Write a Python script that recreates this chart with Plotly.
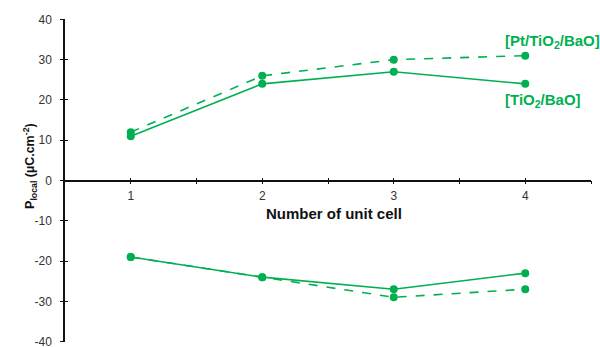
import plotly.graph_objects as go

# Unit cells along the film
cells = [1, 2, 3, 4]

# Local polarisation (µC/cm²), upper and lower branches
pt_tio2_bao_up = [12, 26, 30, 31]
tio2_bao_up = [11, 24, 27, 24]
pt_tio2_bao_down = [-19, -24, -29, -27]
tio2_bao_down = [-19, -24, -27, -23]

label_pt = "[Pt/TiO<sub>2</sub>/BaO]"
label_plain = "[TiO<sub>2</sub>/BaO]"

x_ticks = [1, 1.5, 2, 2.5, 3, 3.5, 4, 4.5]
x_ticktext = ["1", "", "2", "", "3", "", "4", ""]
y_ticks = [-40, -30, -20, -10, 0, 10, 20, 30, 40]
y_ticktext = [str(v) for v in y_ticks]  # plain hyphen minus signs

GREEN = "#00B050"
AXIS = "#111111"
FONT = "Liberation Sans, Arial, sans-serif"

fig = go.Figure()

def add_series(y, dash):
    fig.add_trace(go.Scatter(
        x=cells, y=y, mode="lines+markers",
        line=dict(color=GREEN, width=1.6, dash=dash),
        marker=dict(color=GREEN, size=8),
        showlegend=False, hoverinfo="x+y",
    ))

add_series(pt_tio2_bao_up, "dash")
add_series(tio2_bao_up, "solid")
add_series(pt_tio2_bao_down, "dash")
add_series(tio2_bao_down, "solid")

# empty trace so the overlay axes (inward tick halves) get drawn
fig.add_trace(go.Scatter(x=[None], y=[None], xaxis="x2", yaxis="y2",
                         showlegend=False, hoverinfo="skip"))

tick_font = dict(family=FONT, size=12, color="#333333")
Y_RANGE = [-40.1, 40.1]

fig.update_layout(
    width=600, height=347,
    margin=dict(l=65, r=9, t=19, b=5, autoexpand=False),
    paper_bgcolor="white", plot_bgcolor="white",
    font=dict(family=FONT),
    xaxis=dict(
        range=[0.5, 4.5], tickvals=x_ticks, ticktext=x_ticktext,
        anchor="free", position=0.5, automargin=False,
        showline=True, linecolor=AXIS, linewidth=1.5,
        ticks="outside", ticklen=3, tickwidth=1.2, tickcolor=AXIS,
        showgrid=False, zeroline=False, tickfont=tick_font,
        ticklabelstandoff=1,
    ),
    yaxis=dict(
        range=Y_RANGE, tickvals=y_ticks, ticktext=y_ticktext, domain=[0, 1],
        automargin=False,
        showline=True, linecolor=AXIS, linewidth=1.5,
        ticks="outside", ticklen=3, tickwidth=1.2, tickcolor=AXIS,
        showgrid=False, zeroline=False, tickfont=tick_font,
        ticklabelstandoff=6, ticklabeloverflow="allow",
    ),
    xaxis2=dict(
        range=[0.5, 4.5], tickvals=x_ticks, overlaying="x",
        anchor="free", position=0.5, showline=False, automargin=False,
        ticks="inside", ticklen=3, tickwidth=1.2, tickcolor=AXIS,
        showticklabels=False, showgrid=False, zeroline=False,
    ),
    yaxis2=dict(
        range=Y_RANGE, tickvals=y_ticks, overlaying="y", side="left",
        showline=False, automargin=False,
        ticks="inside", ticklen=3, tickwidth=1.2, tickcolor=AXIS,
        showticklabels=False, showgrid=False, zeroline=False,
    ),
)

fig.add_annotation(
    text="<b>Number of unit cell</b>", xref="paper", yref="paper",
    x=0.512, y=0.5, yshift=-33, showarrow=False,
    font=dict(family=FONT, size=15, color="#111111"),
)
fig.add_annotation(
    text="<b>P<sub>local</sub> (µC.cm<sup>-2</sup>)</b>", xref="paper", yref="paper",
    x=0, xshift=-46, y=0.545, textangle=-90, showarrow=False,
    font=dict(family=FONT, size=12.5, color="#111111"),
)
fig.add_annotation(
    text=f"<b>{label_pt}</b>", x=3.83, y=34.6, xanchor="left",
    showarrow=False, font=dict(family=FONT, size=15, color=GREEN),
)
fig.add_annotation(
    text=f"<b>{label_plain}</b>", x=3.83, y=19.8, xanchor="left",
    showarrow=False, font=dict(family=FONT, size=15, color=GREEN),
)

fig.write_html("out.html")
